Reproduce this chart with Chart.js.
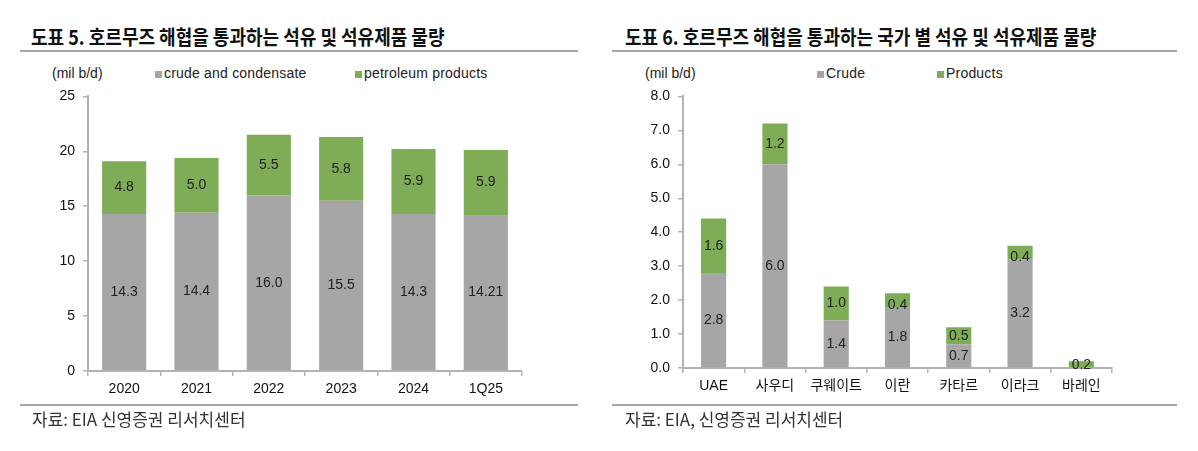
<!DOCTYPE html>
<html>
<head>
<meta charset="utf-8">
<script src="https://cdn.jsdelivr.net/npm/chart.js@4.4.1/dist/chart.umd.min.js"></script>
<style>
  body { margin: 0; background: #fff; font-family: "Liberation Sans", "Noto Sans CJK KR", sans-serif; }
  #page { position: relative; width: 1198px; height: 451px; overflow: hidden; }
  .title { position: absolute; top: 22px; font-family: "Noto Sans CJK KR", sans-serif; font-weight: bold; font-size: 20px; color: #111; white-space: nowrap; transform: scaleX(0.9); transform-origin: left top; }
  .rule { position: absolute; height: 2px; background: #a6a6a6; }
  .unit { position: absolute; top: 65px; font-size: 14px; color: #222; }
  .legend { position: absolute; top: 65px; font-size: 14px; color: #222; white-space: nowrap; letter-spacing: 0.2px; }
  .legend i { display: inline-block; width: 7px; height: 7px; margin-right: 2px; vertical-align: 0px; }
  .src { position: absolute; top: 406px; font-family: "Noto Sans CJK KR", sans-serif; font-size: 17px; color: #333; white-space: nowrap; }
  .box { position: absolute; top: 80px; width: 560px; height: 330px; }
</style>
</head>
<body>
<div id="page">
  <div class="title" style="left:31px">도표 5. 호르무즈 해협을 통과하는 석유 및 석유제품 물량</div>
  <div class="rule" style="left:20px; width:558px; top:50px"></div>
  <div class="unit" style="left:52px">(mil b/d)</div>
  <div class="legend" style="left:155px"><i style="background:#a6a6a6"></i>crude and condensate</div>
  <div class="legend" style="left:355px"><i style="background:#7fac57"></i>petroleum products</div>
  <div class="box" style="left:0px"><canvas id="chartLeft"></canvas></div>
  <div class="rule" style="left:20px; width:558px; top:404px"></div>
  <div class="src" style="left:32px">자료: EIA 신영증권 리서치센터</div>

  <div class="title" style="left:625px">도표 6. 호르무즈 해협을 통과하는 국가 별 석유 및 석유제품 물량</div>
  <div class="rule" style="left:612px; width:565px; top:50px"></div>
  <div class="unit" style="left:645px">(mil b/d)</div>
  <div class="legend" style="left:817px"><i style="background:#a6a6a6"></i>Crude</div>
  <div class="legend" style="left:937px"><i style="background:#7fac57"></i>Products</div>
  <div class="box" style="left:600px"><canvas id="chartRight"></canvas></div>
  <div class="rule" style="left:612px; width:565px; top:404px"></div>
  <div class="src" style="left:625px">자료: EIA, 신영증권 리서치센터</div>
</div>
<script>
// 도표 5
const years = ['2020', '2021', '2022', '2023', '2024', '1Q25'];
const crudeByYear = [14.3, 14.4, 16.0, 15.5, 14.3, 14.21];
const productsByYear = [4.8, 5.0, 5.5, 5.8, 5.9, 5.9];
const leftTicks = [0, 5, 10, 15, 20, 25];

// 도표 6
const countries = ['UAE', '사우디', '쿠웨이트', '이란', '카타르', '이라크', '바레인'];
const crudeByCountry = [2.8, 6.0, 1.4, 1.8, 0.7, 3.2, 0];
const productsByCountry = [1.6, 1.2, 1.0, 0.4, 0.5, 0.4, 0.2];
const rightTicks = [0, 1, 2, 3, 4, 5, 6, 7, 8];

const GRAY = '#a6a6a6';
const GREEN = '#7fac57';
const AXIS = '#b3b3b3';

function fmt(v) {
    return Math.round(v * 10) === v * 10 ? v.toFixed(1) : String(v);
}

// 막대 안에 값 표시
const barLabels = {
    id: 'barLabels',
    afterDatasetsDraw(chart) {
        const ctx = chart.ctx;
        ctx.save();
        ctx.font = '14px "Liberation Sans", Arial, sans-serif';
        ctx.fillStyle = '#222';
        ctx.textAlign = 'center';
        ctx.textBaseline = 'middle';
        chart.data.datasets.forEach(function(ds, i) {
            chart.getDatasetMeta(i).data.forEach(function(bar, j) {
                const v = ds.data[j];
                if (!v) return;
                let y = (bar.y + bar.base) / 2;
                if (bar.base - bar.y < 14) y = bar.base - 2;
                ctx.fillText(fmt(v), bar.x, y);
            });
        });
        ctx.restore();
    }
};

function makeChart(id, labels, crude, products, ticks, opt) {
    const ctx = document.getElementById(id).getContext('2d');
    return new Chart(ctx, {
        type: 'bar',
        data: {
            labels: labels,
            datasets: [
                { label: 'crude', data: crude, backgroundColor: GRAY, barPercentage: opt.barPct, categoryPercentage: 1 },
                { label: 'products', data: products, backgroundColor: GREEN, barPercentage: opt.barPct, categoryPercentage: 1 }
            ]
        },
        options: {
            responsive: false,
            animation: false,
            layout: { padding: { top: 13, right: opt.padRight, bottom: 0, left: 0 } },
            plugins: { legend: { display: false }, tooltip: { enabled: false } },
            scales: {
                x: {
                    stacked: true,
                    border: { color: AXIS, width: 2 },
                    grid: { drawOnChartArea: false, drawTicks: true, tickLength: 5, color: AXIS, lineWidth: 1.5, offset: true },
                    ticks: { color: '#111', padding: 5, font: { size: 14, family: '"Liberation Sans", "Noto Sans CJK KR", sans-serif' } },
                    afterFit: function(s) { s.height = opt.xHeight; }
                },
                y: {
                    stacked: true,
                    min: ticks[0],
                    max: ticks[ticks.length - 1],
                    afterBuildTicks: function(s) { s.ticks = ticks.map(function(v) { return { value: v }; }); },
                    border: { color: AXIS, width: 2 },
                    grid: { drawOnChartArea: false, drawTicks: true, tickLength: 5, color: AXIS, lineWidth: 1.5 },
                    ticks: {
                        color: '#111',
                        padding: 8,
                        font: { size: 14, family: '"Liberation Sans", sans-serif' },
                        callback: function(value) { return opt.yDigits ? value.toFixed(opt.yDigits) : value; }
                    },
                    afterFit: function(s) { s.width = opt.yWidth; }
                }
            }
        },
        plugins: [barLabels]
    });
}

document.getElementById('chartLeft').width = 560;
document.getElementById('chartLeft').height = 330;
document.getElementById('chartRight').width = 560;
document.getElementById('chartRight').height = 330;

makeChart('chartLeft', years, crudeByYear, productsByYear, leftTicks,
    { barPct: 0.61, padRight: 38, yWidth: 88, xHeight: 39, yDigits: 0 });
makeChart('chartRight', countries, crudeByCountry, productsByCountry, rightTicks,
    { barPct: 0.41, padRight: 48, yWidth: 83, xHeight: 42, yDigits: 1 });
</script>
</body>
</html>
